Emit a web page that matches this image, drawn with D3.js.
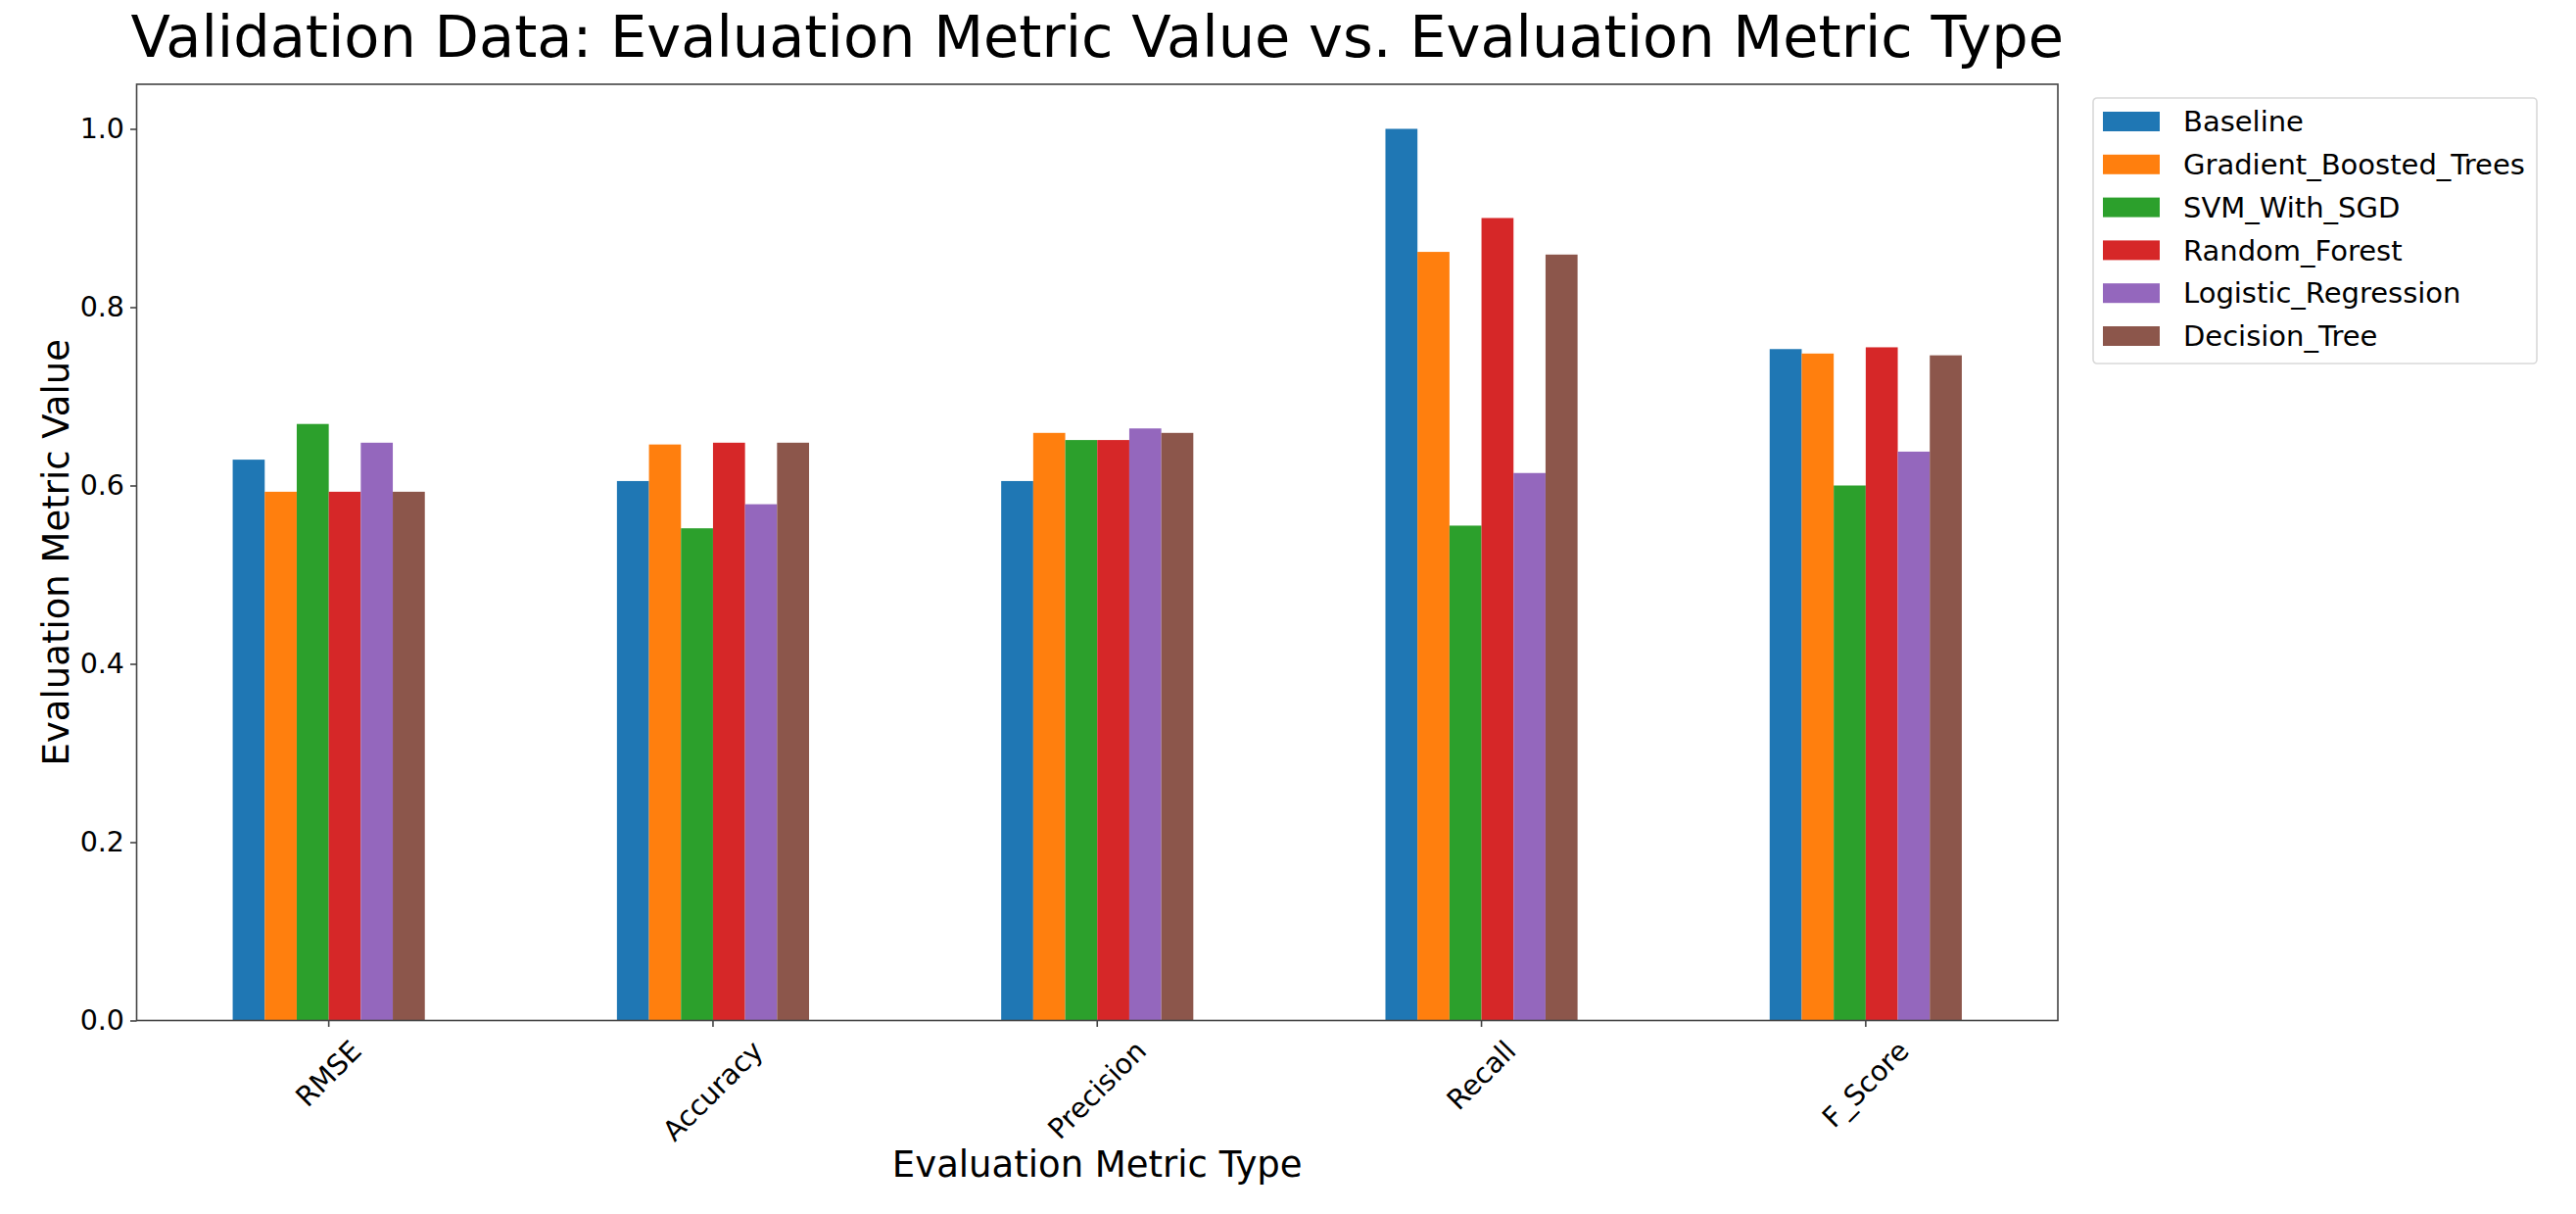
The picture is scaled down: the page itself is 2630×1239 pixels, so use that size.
<!DOCTYPE html>
<html>
<head>
<meta charset="utf-8">
<script src="https://cdn.jsdelivr.net/npm/d3@7"></script>
<style>
  html, body { margin: 0; padding: 0; background: #fff; }
  text { font-family: "DejaVu Sans", sans-serif; fill: #000; }
</style>
</head>
<body>
<svg id="chart"></svg>
<script>
// categories on the x axis
const metrics = ["RMSE", "Accuracy", "Precision", "Recall", "F_Score"]
// one series per model
const models = ["Baseline", "Gradient_Boosted_Trees", "SVM_With_SGD", "Random_Forest", "Logistic_Regression", "Decision_Tree"]
const baseline = [0.629, 0.605, 0.605, 1.0, 0.753]
const gradientBoostedTrees = [0.593, 0.646, 0.659, 0.862, 0.748]
const svmWithSgd = [0.669, 0.552, 0.651, 0.555, 0.600]
const randomForest = [0.593, 0.648, 0.651, 0.900, 0.755]
const logisticRegression = [0.648, 0.579, 0.664, 0.614, 0.638]
const decisionTree = [0.593, 0.648, 0.659, 0.859, 0.746]
const yTicks = [0.0, 0.2, 0.4, 0.6, 0.8, 1.0]

const seriesValues = [baseline, gradientBoostedTrees, svmWithSgd, randomForest, logisticRegression, decisionTree]

const W = 2630, H = 1239
const margin = { left: 139.5, right: 2101, top: 86, bottom: 1041.5 }

const svg = d3.select("#chart").attr("width", W).attr("height", H)
svg.append("rect").attr("width", W).attr("height", H).attr("fill", "#fff")

const color = d3.scaleOrdinal().domain(models).range(d3.schemeCategory10)

// pandas style grouped bars: group width 0.5 of each slot
const x = d3.scaleBand()
  .domain(metrics)
  .range([margin.left, margin.right])
  .paddingInner(0.5)
  .paddingOuter(0.25)

const xInner = d3.scaleBand().domain(models).range([0, x.bandwidth()])

const y = d3.scaleLinear().domain([0, 1.05]).range([margin.bottom, margin.top])

/*
  Bars
*/
const groups = svg.append("g")
  .selectAll("g")
  .data(metrics)
  .enter()
  .append("g")
  .attr("transform", (m) => "translate(" + x(m) + ",0)")

groups.selectAll("rect")
  .data((m, i) => models.map((name, k) => ({ name: name, value: seriesValues[k][i] })))
  .enter()
  .append("rect")
  .attr("x", (d) => xInner(d.name))
  .attr("width", xInner.bandwidth())
  .attr("y", (d) => y(d.value))
  .attr("height", (d) => y(0) - y(d.value))
  .attr("fill", (d) => color(d.name))

/*
  Axes
*/
const tickFont = 28.5
const yAxis = svg.append("g")
  .attr("transform", "translate(" + margin.left + ",0)")
  .call(d3.axisLeft(y).tickValues(yTicks).tickFormat(d3.format(".1f")).tickSize(6.5).tickPadding(6).tickSizeOuter(0))
yAxis.select(".domain").remove()
yAxis.selectAll("line").attr("stroke", "#444").attr("stroke-width", 1.6)
yAxis.selectAll("text")
  .style("font-family", "DejaVu Sans")
  .style("font-size", tickFont + "px")
  .attr("fill", "#000")

const xAxis = svg.append("g")
  .attr("transform", "translate(0," + margin.bottom + ")")
  .call(d3.axisBottom(x).tickSize(6.5).tickSizeOuter(0))
xAxis.select(".domain").remove()
xAxis.selectAll("line").attr("stroke", "#444").attr("stroke-width", 1.6)

const labelTop = 16
xAxis.selectAll("text")
  .style("font-family", "DejaVu Sans")
  .style("font-size", tickFont + "px")
  .attr("fill", "#000")
  .attr("text-anchor", "middle")
  .attr("dominant-baseline", "central")
  .attr("dy", null)
  .each(function () {
    const t = d3.select(this)
    const len = this.getComputedTextLength()
    const side = (len + tickFont * 1.0) * Math.SQRT1_2
    const cy = labelTop + side / 2
    t.attr("x", 0).attr("y", cy).attr("transform", "rotate(-45,0," + cy + ")")
  })

// frame
svg.append("rect")
  .attr("x", margin.left)
  .attr("y", margin.top)
  .attr("width", margin.right - margin.left)
  .attr("height", margin.bottom - margin.top)
  .attr("fill", "none")
  .attr("stroke", "#444")
  .attr("stroke-width", 1.6)

/*
  Titles
*/
const midX = (margin.left + margin.right) / 2
svg.append("text")
  .attr("x", midX)
  .attr("y", 58)
  .attr("text-anchor", "middle")
  .style("font-size", "59px")
  .text("Validation Data: Evaluation Metric Value vs. Evaluation Metric Type")

svg.append("text")
  .attr("x", midX)
  .attr("y", 1201)
  .attr("text-anchor", "middle")
  .style("font-size", "37px")
  .text("Evaluation Metric Type")

svg.append("text")
  .attr("transform", "translate(70," + (margin.top + margin.bottom) / 2 + ") rotate(-90)")
  .attr("text-anchor", "middle")
  .style("font-size", "37px")
  .text("Evaluation Metric Value")

/*
  Legend
*/
const legend = svg.append("g").attr("transform", "translate(2137,100)")
legend.append("rect")
  .attr("width", 453)
  .attr("height", 271)
  .attr("rx", 4)
  .attr("fill", "#fff")
  .attr("stroke", "#d9d9d9")
  .attr("stroke-width", 1.6)

const rows = legend.selectAll(".row")
  .data(models)
  .enter()
  .append("g")
  .attr("class", "row")
  .attr("transform", (d, i) => "translate(0," + (24 + i * 43.8) + ")")

rows.append("rect")
  .attr("x", 10)
  .attr("y", -10)
  .attr("width", 58)
  .attr("height", 20)
  .attr("fill", (d) => color(d))

rows.append("text")
  .attr("x", 92)
  .attr("y", 0)
  .attr("dy", "0.35em")
  .style("font-size", "29px")
  .text((d) => d)
</script>
</body>
</html>
